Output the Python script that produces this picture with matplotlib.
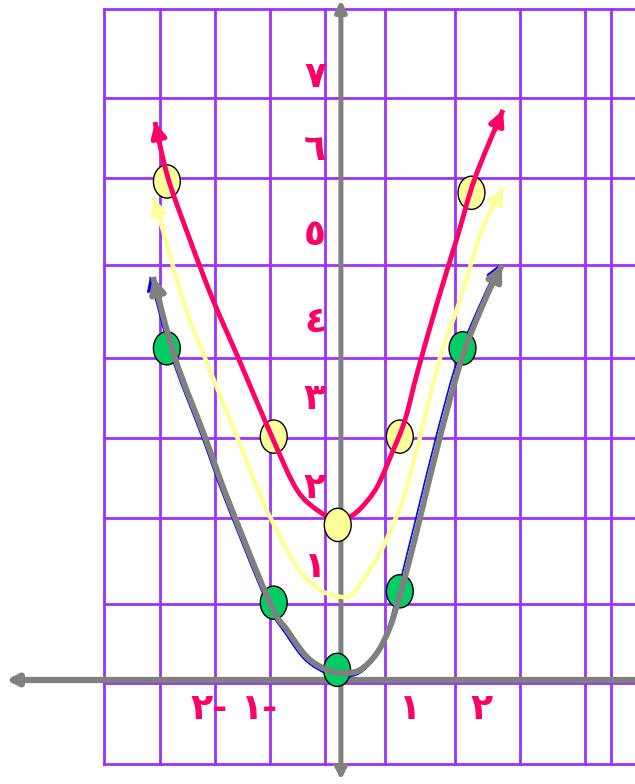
import matplotlib
matplotlib.use("Agg")
import matplotlib.pyplot as plt
from matplotlib.patches import Ellipse, PathPatch
from matplotlib.path import Path

# colours
purple = '#9933FF'
grey = '#808080'
pink = '#FF0066'
pale = '#FFFF99'
green = '#00CC66'
blue = '#0000FF'

# marked points (grid units)
green_x = [-2.69, -1.02, -0.03, 0.95, 1.93]
green_y = [4.07, 0.93, 0.10, 1.07, 4.07]
yellow_x = [-2.69, -1.02, -0.02, 0.95, 2.07]
yellow_y = [6.13, 2.98, 1.89, 2.98, 5.99]

# hand drawn curves, first and last point are the arrow tips
red_x = [-2.875, -2.672, -2.328, -1.969, -1.547, -1.047, -0.656, -0.297, 0.016, 0.172,
         0.359, 0.594, 0.828, 1.031, 1.234, 1.547, 1.844, 2.125, 2.5625]
red_y = [6.864, 6.173, 5.407, 4.667, 3.901, 2.975, 2.321, 2.049, 1.938, 1.988,
         2.111, 2.358, 2.778, 3.185, 3.802, 4.667, 5.432, 6.173, 7.012]

yel_x = [-2.891, -2.4375, -2.094, -1.594, -1.203, -1.078, -0.656, -0.297, 0.047, 0.203,
         0.375, 0.641, 0.875, 1.0, 1.266, 1.578, 1.891, 2.234, 2.5625]
yel_y = [5.926, 4.667, 3.951, 2.975, 2.198, 1.988, 1.370, 1.086, 1.0, 1.037,
         1.210, 1.543, 1.951, 2.198, 2.975, 3.951, 4.667, 5.531, 6.049]

grey_x = [-2.906, -2.5625, -2.094, -1.734, -1.078, -0.8125, -0.5, -0.1875, 0.0625, 0.328,
          0.594, 0.797, 0.953, 1.109, 1.266, 1.578, 1.922, 2.281, 2.547]
grey_y = [4.951, 3.951, 2.975, 2.198, 0.926, 0.593, 0.259, 0.099, 0.062, 0.099,
          0.309, 0.630, 1.025, 1.481, 1.975, 2.975, 3.951, 4.667, 5.099]

blue_x = [-2.953, -2.609, -2.141, -1.781, -1.125, -0.844, -0.531, -0.1875, 0.0625, 0.328,
          0.578, 0.766, 0.906, 1.047, 1.203, 1.516, 1.859, 2.234, 2.5]
blue_y = [4.951, 3.951, 2.975, 2.198, 0.926, 0.556, 0.222, 0.049, 0.012, 0.062,
          0.272, 0.617, 1.025, 1.481, 1.975, 2.975, 3.951, 4.667, 5.099]

# labels
y_labels = ['١', '٢', '٣', '٤', '٥', '٦', '٧']
y_label_pos = [1.37, 2.35, 3.44, 4.40, 5.47, 6.52, 7.42]
x_labels = ['٢-', '١-', '١', '٢']
x_label_pos = [-2.03, -1.24, 1.11, 2.22]

# grid lines (hand ruled, uneven)
grid_x = [-3.672, -2.797, -1.938, -1.078, -0.219, 0.719, 1.8125, 2.828, 3.844, 4.25]
grid_y = [8.259, 7.160, 6.173, 5.099, 3.951, 2.963, 1.975, 0.914, -0.062, -1.062]

fig = plt.figure(figsize=(6.35, 7.84), dpi=100)
ax = fig.add_axes([0, 0, 1, 1])
ax.set_xlim(-5.297, 4.625)
ax.set_ylim(-1.309, 8.370)
ax.axis('off')

for gx in grid_x:
    ax.plot([gx, gx], [grid_y[-1], grid_y[0]], color=purple, lw=2, zorder=1)
for gy in grid_y:
    ax.plot([grid_x[0], 4.7], [gy, gy], color=purple, lw=2, zorder=1)

# axes with arrows
ax.annotate('', xy=(0.03, 8.37), xytext=(0.03, -1.259),
            arrowprops=dict(arrowstyle='<|-|>', color=grey, lw=3.6, mutation_scale=16,
                            shrinkA=0, shrinkB=0), zorder=2)
ax.annotate('', xy=(-5.203, -0.025), xytext=(4.7, -0.025),
            arrowprops=dict(arrowstyle='-|>', color=grey, lw=4.5, mutation_scale=16,
                            shrinkA=0, shrinkB=0), zorder=2)


def smooth(xs, ys):
    # catmull-rom through the read points, as bezier pieces
    pts = list(zip(xs, ys))
    verts = [pts[0]]
    codes = [Path.MOVETO]
    n = len(pts)
    for i in range(n - 1):
        p0 = pts[max(i - 1, 0)]
        p1 = pts[i]
        p2 = pts[i + 1]
        p3 = pts[min(i + 2, n - 1)]
        c1 = (p1[0] + (p2[0] - p0[0]) / 6, p1[1] + (p2[1] - p0[1]) / 6)
        c2 = (p2[0] - (p3[0] - p1[0]) / 6, p2[1] - (p3[1] - p1[1]) / 6)
        verts += [c1, c2, p2]
        codes += [Path.CURVE4] * 3
    return Path(verts, codes)


def curve(xs, ys, color, lw, z, ms=22):
    ax.add_patch(PathPatch(smooth(xs, ys), facecolor='none', edgecolor=color, lw=lw,
                           zorder=z, capstyle='butt', joinstyle='round'))
    for a, b in [(0, 1), (-1, -2)]:
        tail = (xs[a] + 0.3 * (xs[b] - xs[a]), ys[a] + 0.3 * (ys[b] - ys[a]))
        ax.annotate('', xy=(xs[a], ys[a]), xytext=tail,
                    arrowprops=dict(arrowstyle='-|>', color=color, lw=lw, mutation_scale=ms,
                                    shrinkA=0, shrinkB=0), zorder=z)


curve(yel_x, yel_y, pale, 3.2, 3)
curve(blue_x, blue_y, blue, 1.2, 3)
for x, y in zip(green_x, green_y):
    ax.add_patch(Ellipse((x, y), 0.42, 0.41, facecolor=green, edgecolor='black', lw=1, zorder=4))
curve(grey_x, grey_y, grey, 4.2, 5)
for i, (x, y) in enumerate(zip(yellow_x, yellow_y)):
    z = 7 if i == 2 else 5
    ax.add_patch(Ellipse((x, y), 0.42, 0.41, facecolor=pale, edgecolor='black', lw=1, zorder=z))
curve(red_x, red_y, pink, 3.5, 6)

for lab, y in zip(y_labels, y_label_pos):
    ax.text(-0.375, y, lab, color=pink, fontsize=26, fontweight='bold',
            ha='center', va='center', zorder=8)
for lab, x in zip(x_labels, x_label_pos):
    ax.text(x, -0.383, lab, color=pink, fontsize=26, fontweight='bold',
            ha='center', va='center', zorder=8)

fig.savefig('out.png', dpi=100)
